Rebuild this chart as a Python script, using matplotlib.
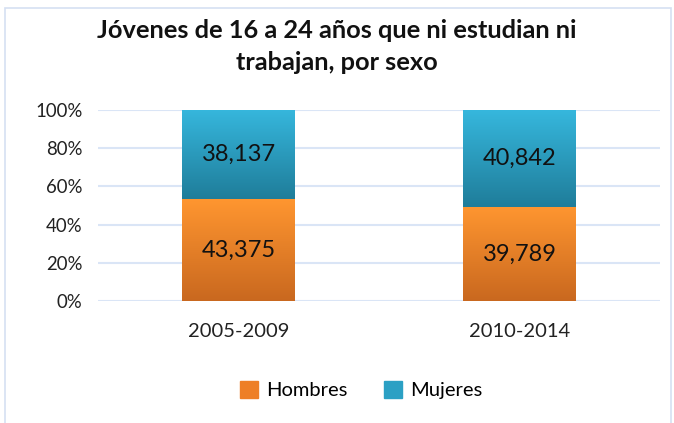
import numpy as np
import matplotlib.pyplot as plt
from matplotlib.colors import LinearSegmentedColormap
from matplotlib.patches import Patch, Rectangle

plt.rcParams['font.family'] = ['Lato', 'DejaVu Sans']

periodos = ["2005-2009", "2010-2014"]
hombres = [43375, 39789]
mujeres = [38137, 40842]

total = np.array(hombres) + np.array(mujeres)
p_h = np.array(hombres) / total
p_m = np.array(mujeres) / total

fig = plt.figure(figsize=(6.74, 4.23), dpi=100)
# light border of the chart area
fig.patches.append(Rectangle((0.008, -0.01), 0.988, 0.99, transform=fig.transFigure,
                             fill=False, edgecolor='#d5e0f2', linewidth=1.2))

ax = fig.add_axes([98 / 674, 1 - 301 / 423, 562 / 674, 191 / 423])

orange = LinearSegmentedColormap.from_list('o', ['#c9681f', '#ff9630'])
blue = LinearSegmentedColormap.from_list('b', ['#1f7d9a', '#36b7dd'])
grad = np.linspace(0, 1, 256).reshape(-1, 1)

w = 0.4
x = np.arange(len(periodos))
for i in x:
    ax.imshow(grad, cmap=orange, aspect='auto', origin='lower',
              extent=(i - w / 2, i + w / 2, 0, p_h[i]), zorder=2)
    ax.imshow(grad, cmap=blue, aspect='auto', origin='lower',
              extent=(i - w / 2, i + w / 2, p_h[i], 1), zorder=2)
    ax.text(i, p_h[i] / 2, f"{hombres[i]:,}", ha='center', va='center',
            fontsize=17, color='#111111', zorder=3)
    ax.text(i, p_h[i] + p_m[i] / 2, f"{mujeres[i]:,}", ha='center', va='center',
            fontsize=17, color='#111111', zorder=3)
ax.set_xlim(-0.5, 1.5)
ax.set_ylim(0, 1)

ax.set_yticks(np.linspace(0, 1, 6))
ax.set_yticklabels([f"{int(v)}%" for v in np.linspace(0, 100, 6)])
ax.set_xticks(x)
ax.set_xticklabels(periodos)
ax.tick_params(length=0, labelsize=13.4, colors='#222222')
ax.tick_params(axis='y', pad=11)
ax.tick_params(axis='x', labelsize=14.5, pad=16)
ax.yaxis.grid(True, color='#dae5f6', linewidth=1.5)
ax.set_axisbelow(True)
for s in ax.spines.values():
    s.set_visible(False)

fig.text(0.5, 1 - 19 / 423, "Jóvenes de 16 a 24 años que ni estudian ni\ntrabajan, por sexo",
         ha='center', va='top', fontsize=18.3, fontweight='bold', linespacing=1.5,
         color='#111111')

handles = [Patch(facecolor='#ee7f26', edgecolor='#ee7f26', label='Hombres'),
           Patch(facecolor='#2ba0c4', edgecolor='#2ba0c4', label='Mujeres')]
fig.legend(handles=handles, loc='center', bbox_to_anchor=(361 / 674, 1 - 390 / 423),
           ncol=2, frameon=False, fontsize=14.5, handlelength=0.9, handleheight=0.9,
           columnspacing=1.8, handletextpad=0.4)

fig.savefig('out.png', dpi=100)
